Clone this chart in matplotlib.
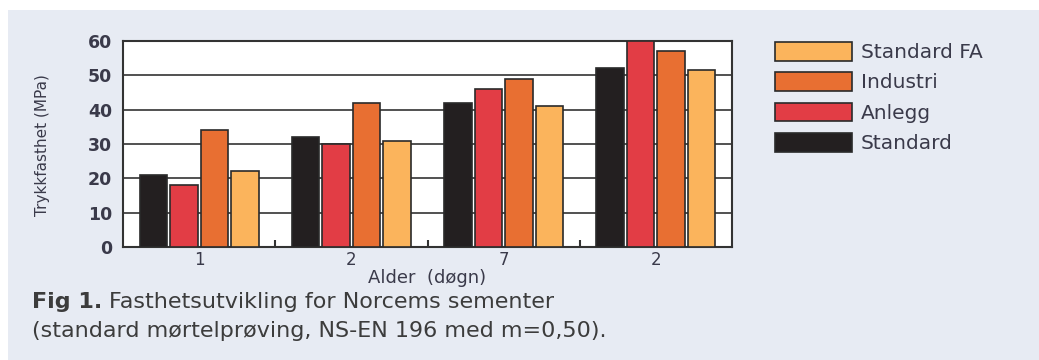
import numpy as np
import matplotlib.pyplot as plt
from matplotlib.patches import Rectangle

# data
ages = ['1', '2', '7', '2']
series = ['Standard', 'Anlegg', 'Industri', 'Standard FA']
standard = [21, 32, 42, 52]
anlegg = [18, 30, 46, 60]
industri = [34, 42, 49, 57]
standard_fa = [22, 31, 41, 51.5]
colors = ['#231f20', '#e23d45', '#e86f32', '#fbb45c']

fig = plt.figure(figsize=(10.39, 3.6), dpi=100)
fig.patches.append(Rectangle((8 / 1039, 0), 1, 1 - 10 / 360, transform=fig.transFigure,
                             facecolor='#e7ebf3', edgecolor='none', zorder=-10))

ax = fig.add_axes([123 / 1039, 1 - 247 / 360, 609 / 1039, 206 / 360])
x = np.arange(len(ages))
width = 0.18
offsets = [-0.3, -0.1, 0.1, 0.3]
bars = []
for vals, off, c, name in zip([standard, anlegg, industri, standard_fa], offsets, colors, series):
    b = ax.bar(x + off, vals, width, color=c, edgecolor='#2a2a2a', linewidth=1.2,
               label=name, zorder=3)
    bars.append(b)

ax.set_xlim(-0.5, 3.5)
ax.set_ylim(0, 60)
ax.set_yticks(range(0, 61, 10))
ax.yaxis.grid(True, color='#333333', linewidth=1.2, zorder=0)
ax.set_axisbelow(True)
for s in ax.spines.values():
    s.set_color('#333333')
    s.set_linewidth(1.5)

ax.set_xticks(x)
ax.set_xticklabels(ages)
ax.set_xticks([0.5, 1.5, 2.5], minor=True)
ax.tick_params(axis='x', which='major', length=0, pad=3, labelsize=12, labelcolor='#3a3a4a')
ax.tick_params(axis='x', which='minor', direction='in', length=5, width=1.5, color='#333333')
ax.tick_params(axis='y', length=0, pad=8, labelsize=12.5, labelcolor='#3a3a4a')
for lbl in ax.get_yticklabels():
    lbl.set_fontweight('bold')

ax.set_xlabel('Alder  (døgn)', fontsize=13, color='#3a3a4a', labelpad=0)
fig.text(43 / 1039, 1 - 145 / 360, 'Trykkfasthet (MPa)', rotation=90, ha='center', va='center',
         fontsize=11, color='#3a3a4a')

handles = bars[::-1]
leg = fig.legend(handles, series[::-1], loc='upper left',
                 bbox_to_anchor=(775 / 1039, 1 - 42 / 360), frameon=False,
                 fontsize=14.5, handlelength=3.8, handleheight=1.05, handletextpad=0.45,
                 labelspacing=0.5, borderpad=0, borderaxespad=0)
for t in leg.get_texts():
    t.set_color('#3a3a4a')

# caption
cap1 = fig.text(32 / 1039, 1 - 302 / 360, 'Fig 1.', fontsize=16, fontweight='bold',
                color='#3c3c3c', va='center')
fig.canvas.draw()
bb = cap1.get_window_extent(fig.canvas.get_renderer())
fig.text(bb.x1 / 1039 + 7 / 1039, 1 - 302 / 360, 'Fasthetsutvikling for Norcems sementer',
         fontsize=16, color='#3c3c3c', va='center')
fig.text(32 / 1039, 1 - 331 / 360, '(standard mørtelprøving, NS-EN 196 med m=0,50).',
         fontsize=16, color='#3c3c3c', va='center')

fig.savefig('out.png', dpi=100)
